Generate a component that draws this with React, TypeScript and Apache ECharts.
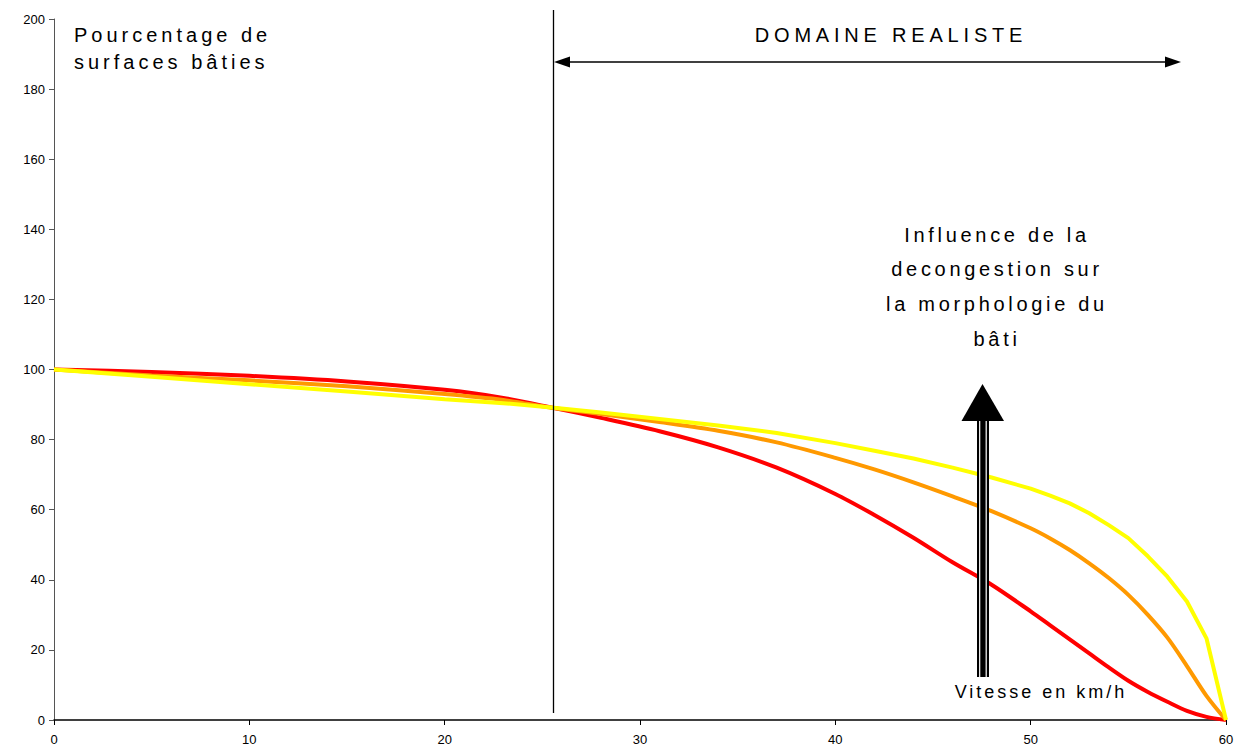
import { useEffect, useRef } from "react";
import * as echarts from "echarts";

// Speed (km/h) sampled along the curves
const speeds = [0, 5, 10, 15, 20, 23, 25.6, 28, 31, 34, 37, 40, 42, 44, 46, 48, 50, 51, 52, 53, 54, 55, 56, 57, 58, 59, 60];
const redValues = [100, 99.3, 98.2, 96.6, 94.2, 91.9, 89.0, 86.2, 82.4, 77.8, 72.0, 64.5, 58.5, 52.0, 45.0, 38.6, 31.0, 27.0, 23.0, 19.0, 15.0, 11.2, 8.0, 5.2, 2.6, 0.9, 0];
const orangeValues = [100, 98.3, 96.9, 95.2, 93.0, 91.3, 89.0, 87.3, 85.0, 82.5, 79.2, 74.8, 71.5, 67.8, 63.8, 59.6, 54.7, 51.8, 48.5, 44.7, 40.5, 35.7, 30.0, 23.5, 15.4, 6.9, 0];
const yellowValues = [100, 97.9, 95.8, 93.7, 91.5, 90.4, 89.1, 87.7, 85.9, 84.0, 81.9, 79.0, 76.8, 74.6, 72.0, 69.2, 66.0, 64.0, 61.8, 59.0, 55.6, 51.9, 46.7, 40.9, 33.8, 23.3, 0];

const titleLines = ["Pourcentage de", "surfaces bâties"];
const domainLabel = "DOMAINE REALISTE";
const influenceLines = ["Influence de la", "decongestion sur", "la morphologie du", "bâti"];
const speedLabel = "Vitesse en km/h";

const FONT = '"Liberation Sans", Arial, sans-serif';

export default function App() {
  const ref = useRef<HTMLDivElement>(null);

  useEffect(() => {
    if (!ref.current) return;
    const chart = echarts.init(ref.current, null, { renderer: "svg" });

    const mk = (vals: number[]) => speeds.map((s, i) => [s, vals[i]]);

    chart.setOption({
      animation: false,
      backgroundColor: "#fff",
      grid: { left: 54, right: 18, top: 19, bottom: 33, containLabel: false },
      xAxis: {
        type: "value",
        min: 0,
        max: 60,
        interval: 10,
        axisLine: { show: true, lineStyle: { color: "#000", width: 1.5 } },
        axisTick: { show: true, length: 5, lineStyle: { color: "#000" } },
        axisLabel: { color: "#000", fontSize: 13, fontFamily: FONT, margin: 13 },
        splitLine: { show: false },
      },
      yAxis: {
        type: "value",
        min: 0,
        max: 200,
        interval: 20,
        axisLine: { show: true, lineStyle: { color: "#555", width: 1 } },
        axisTick: { show: true, length: 5, lineStyle: { color: "#555" } },
        axisLabel: { color: "#000", fontSize: 13, fontFamily: FONT, margin: 9 },
        splitLine: { show: false },
      },
      series: [
        { type: "line", data: mk(redValues), symbol: "none", smooth: 0.3, lineStyle: { color: "#ff0000", width: 4 }, z: 2 },
        { type: "line", data: mk(orangeValues), symbol: "none", smooth: 0.3, lineStyle: { color: "#ff9900", width: 4 }, z: 3 },
        { type: "line", data: mk(yellowValues), symbol: "none", smooth: false, lineStyle: { color: "#ffff00", width: 4 }, z: 4 },
      ],
      graphic: {
        elements: [
          // vertical separator
          { type: "line", shape: { x1: 553.5, y1: 10, x2: 553.5, y2: 713 }, style: { stroke: "#000", lineWidth: 1.3 }, z: 100 },
          // double arrow
          { type: "line", shape: { x1: 565, y1: 62, x2: 1168, y2: 62 }, style: { stroke: "#000", lineWidth: 1.5 }, z: 100 },
          { type: "polygon", shape: { points: [[554, 62], [570, 56.5], [570, 67.5]] }, style: { fill: "#000" }, z: 100 },
          { type: "polygon", shape: { points: [[1181, 62], [1165, 56.5], [1165, 67.5]] }, style: { fill: "#000" }, z: 100 },
          // big upward arrow
          { type: "rect", shape: { x: 977, y: 419, width: 12, height: 258 }, style: { fill: "#000" }, z: 100 },
          { type: "line", shape: { x1: 979.7, y1: 421, x2: 979.7, y2: 677 }, style: { stroke: "#fff", lineWidth: 1.2 }, z: 101 },
          { type: "line", shape: { x1: 986.2, y1: 421, x2: 986.2, y2: 677 }, style: { stroke: "#fff", lineWidth: 1.2 }, z: 101 },
          { type: "polygon", shape: { points: [[982.5, 384], [961.5, 421], [1004, 421]] }, style: { fill: "#000" }, z: 102 },
          // texts
          {
            type: "text", x: 74, y: 21.5, z: 100,
            style: { text: titleLines.join("\n"), fill: "#000", fontSize: 20, fontFamily: FONT, align: "left", verticalAlign: "top", lineHeight: 27 },
          },
          {
            type: "text", x: 891, y: 35, z: 100,
            style: { text: domainLabel, fill: "#000", fontSize: 20, fontFamily: FONT, align: "center", verticalAlign: "middle" },
          },
          {
            type: "text", x: 997, y: 217.5, z: 100,
            style: { text: influenceLines.join("\n"), fill: "#000", fontSize: 20, fontFamily: FONT, align: "center", verticalAlign: "top", lineHeight: 34.6 },
          },
          {
            type: "text", x: 1041, y: 692, z: 103,
            style: { text: speedLabel, fill: "#000", fontSize: 18, fontFamily: FONT, align: "center", verticalAlign: "middle" },
          },
        ],
      },
    });

    const spacing: Record<string, number> = {};
    titleLines.forEach((l) => (spacing[l] = 4));
    influenceLines.forEach((l) => (spacing[l] = 3.7));
    spacing[domainLabel] = 4.8;
    spacing[speedLabel] = 3;

    const applySpacing = () => {
      const root = ref.current;
      if (!root) return;
      root.querySelectorAll("text").forEach((t) => {
        const content = (t.textContent || "").trim();
        const s = spacing[content];
        if (s !== undefined) t.setAttribute("letter-spacing", s + "px");
      });
    };
    applySpacing();
    chart.on("finished", applySpacing);
    const raf = requestAnimationFrame(applySpacing);
    const to = setTimeout(applySpacing, 50);

    return () => {
      cancelAnimationFrame(raf);
      clearTimeout(to);
      chart.dispose();
    };
  }, []);

  return (
    <div
      ref={ref}
      style={{ position: "fixed", left: 0, top: 0, width: 1244, height: 753, background: "#fff" }}
    />
  );
}
